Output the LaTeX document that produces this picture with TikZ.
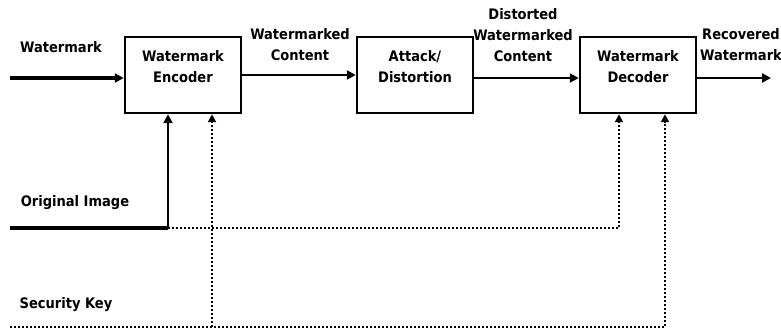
\documentclass[tikz,border=0pt]{standalone}
\usepackage{fontspec}
\setmainfont{DejaVu Sans Condensed}
\usepackage{tikz}
\usetikzlibrary{arrows.meta}

\tikzset{
	blockbox/.style={draw, line width=2.5pt, minimum width=116pt, minimum height=76pt, inner sep=0pt},
	blocktext/.style={align=center, inner sep=0pt, font=\fontsize{14.5}{21}\selectfont\bfseries},
	sigline/.style={line width=2.5pt, -{Triangle[length=9pt,width=9pt]}},
	keyline/.style={line width=2.5pt, dash pattern=on 2.2pt off 1.8pt, -{Triangle[length=8pt,width=8pt]}},
}

\begin{document}
\begin{tikzpicture}[x=1pt, y=-1pt]
		\useasboundingbox (0,0) rectangle (781,334);
		% blocks
		\foreach \N/\X/\T in {enc/183/{Watermark\\Encoder}, att/415/{Attack/\\Distortion}, dec/638/{Watermark\\Decoder}}{
			\node[blockbox] (\N) at (\X,75) {};
			\node[blocktext] (\N txt) at (\X,67) {\T};
		}
		% labels
		\node[blocktext] (wmlbl) at (61,47) {Watermark};
		\node[blocktext] (wclbl) at (300,45) {Watermarked\\Content};
		\node[blocktext] (dwclbl) at (523,35) {Distorted\\Watermarked\\Content};
		\node[blocktext] (rwlbl) at (741,45) {Recovered\\Watermark};
		\node[blocktext] (oilbl) at (75,203) {Original Image};
		\node[blocktext] (sklbl) at (66,305) {Security Key};
		% free ends and corners
		\coordinate (wmin) at (10,78);
		\coordinate (rwout) at (771,78);
		\coordinate (oiin) at (10,228);
		\coordinate (oicorner) at (168,228);
		\coordinate (oidec) at (619,228);
		\coordinate (skin) at (10,327);
		\coordinate (skenc) at (212,327);
		\coordinate (skdec) at (665,327);
		% main signal path
		\draw[sigline, line width=3.5pt] (wmin) -- (wmin -| enc.west);
		\draw[sigline] (enc.east) -- (att.west);
		\draw[sigline] ([yshift=-3pt]att.east) -- ([yshift=-3pt]dec.west);
		\draw[sigline] ([yshift=-3pt]dec.east) -- (rwout);
		% original image
		\draw[line width=3.5pt] (oiin) -- (oicorner);
		\draw[sigline] (oicorner) -- (oicorner |- enc.south);
		\draw[keyline] (oicorner) -- (oidec) -- (oidec |- dec.south);
		% security key
		\draw[keyline] (skin) -- (skdec) -- (skdec |- dec.south);
		\draw[keyline] (skenc) -- (skenc |- enc.south);
	\end{tikzpicture}
\end{document}
